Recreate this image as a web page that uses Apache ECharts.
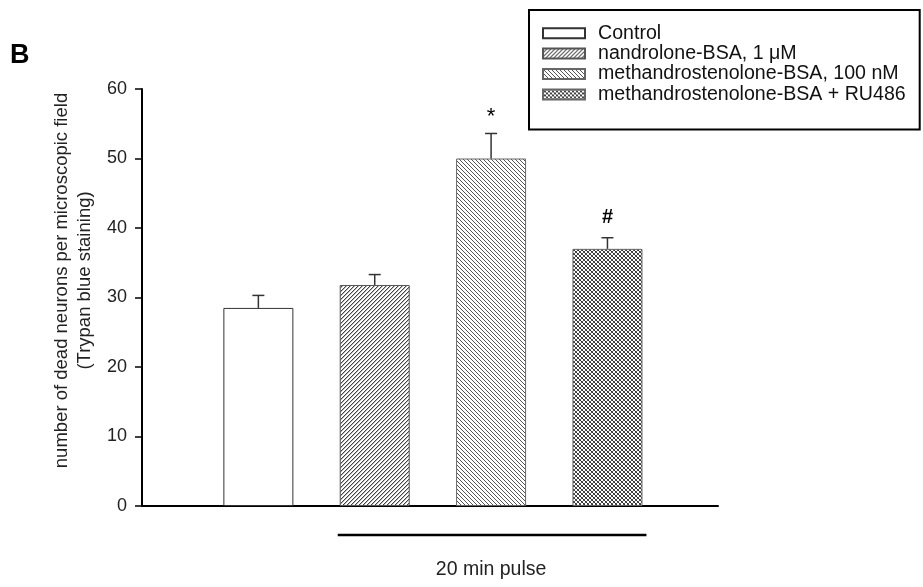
<!DOCTYPE html>
<html>
<head>
<meta charset="utf-8">
<script src="https://cdn.jsdelivr.net/npm/echarts@6/dist/echarts.min.js"></script>
<style>
html,body{margin:0;padding:0;background:#fff;}
#chart{width:923px;height:587px;}
</style>
</head>
<body>
<div id="chart"></div>
<script>
// ---- data ----
const categories = ['Control', 'nandrolone-BSA, 1 μM', 'methandrostenolone-BSA, 100 nM', 'methandrostenolone-BSA + RU486'];
const positions = [1, 2, 3, 4];
const means = [28.5, 31.8, 50.0, 37.0];
const errors = [1.8, 1.5, 3.6, 1.6];
const marks = ['', '', '*', '#'];
const yTicks = [0, 10, 20, 30, 40, 50, 60];
const pulseLabel = '20 min pulse';
const pulseRange = [2, 4];

// ---- patterns ----
function tile(draw) {
  const c = document.createElement('canvas');
  c.width = 4; c.height = 4;
  const g = c.getContext('2d');
  g.fillStyle = '#fff'; g.fillRect(0, 0, 4, 4);
  draw(g);
  return { image: c, repeat: 'repeat' };
}
const patSlash = tile(g => {
  for (let i = 0; i < 4; i++) {
    g.fillStyle = '#444'; g.fillRect(i, 3 - i, 1, 1);
    g.fillStyle = '#bbb'; g.fillRect(i, (4 - i) % 4, 1, 1);
  }
});
const patBack = tile(g => {
  for (let i = 0; i < 4; i++) {
    g.fillStyle = '#555'; g.fillRect(i, i, 1, 1);
  }
});
const patCross = tile(g => {
  for (let i = 0; i < 4; i++) {
    g.fillStyle = '#333'; g.fillRect(i, i, 1, 1);
    g.fillStyle = '#555'; g.fillRect(i, 3 - i, 1, 1);
  }
});
const fills = ['#ffffff', patSlash, patBack, patCross];
const borders = ['#333', '#555', '#666', '#666'];

const font = 'Liberation Sans, Arial, sans-serif';
const BAR_W = 70;

const barSeries = categories.map((name, i) => ({
  name: name,
  type: 'bar',
  barWidth: BAR_W,
  barGap: '-100%',
  data: [[positions[i], means[i]]],
  itemStyle: { color: fills[i], borderColor: borders[i], borderWidth: 1 },
  emphasis: { disabled: true },
  z: 2
}));

const errData = positions.map((p, i) => [p, means[i], errors[i], i]);

const chart = echarts.init(document.getElementById('chart'), null, { renderer: 'canvas' });
chart.setOption({
  animation: false,
  backgroundColor: '#fff',
  title: {
    text: 'B', left: 10, top: 42, padding: 0,
    textStyle: { fontFamily: font, fontSize: 27, fontWeight: 'bold', color: '#000' }
  },
  legend: {
    data: categories,
    orient: 'vertical',
    left: 529, top: 10,
    padding: [13, 14, 25, 13],
    borderColor: '#000', borderWidth: 2,
    backgroundColor: '#fff',
    icon: 'rect',
    itemWidth: 42, itemHeight: 10, itemGap: 0,
    selectedMode: false,
    textStyle: { fontFamily: font, fontSize: 19.6, color: '#111', lineHeight: 20.4, padding: [0, 0, 0, 8] }
  },
  grid: { left: 142, right: 205, top: 89, bottom: 81, containLabel: false },
  xAxis: {
    type: 'value', min: 0, max: 4.95,
    axisLine: { show: true, onZero: false, lineStyle: { color: '#000', width: 2 } },
    axisTick: { show: false }, axisLabel: { show: false }, splitLine: { show: false }
  },
  yAxis: {
    type: 'value', min: yTicks[0], max: yTicks[yTicks.length - 1], interval: 10,
    name: 'number of dead neurons per microscopic field\n(Trypan blue staining)',
    nameLocation: 'middle', nameGap: 44, nameRotate: 90,
    nameTextStyle: { fontFamily: font, fontSize: 18.5, color: '#222', lineHeight: 23, align: 'center', padding: [0, 0, 0, 34] },
    axisLine: { show: true, lineStyle: { color: '#000', width: 2 } },
    axisTick: { show: true, length: 7, lineStyle: { color: '#000', width: 1.5 } },
    axisLabel: { margin: 15, fontFamily: font, fontSize: 18, color: '#222' },
    splitLine: { show: false }
  },
  series: barSeries.concat([
    {
      type: 'custom',
      name: 'err',
      data: errData,
      z: 5,
      clip: false,
      renderItem: function (params, api) {
        const x = api.value(0), m = api.value(1), e = api.value(2), idx = api.value(3);
        const p0 = api.coord([x, m]);
        const p1 = api.coord([x, m + e]);
        const children = [
          { type: 'line', shape: { x1: p0[0], y1: p0[1], x2: p1[0], y2: p1[1] }, style: { stroke: '#333', lineWidth: 1.5 } },
          { type: 'line', shape: { x1: p1[0] - 6, y1: p1[1], x2: p1[0] + 6, y2: p1[1] }, style: { stroke: '#333', lineWidth: 1.5 } }
        ];
        const mk = marks[idx];
        if (mk) {
          children.push({ type: 'text', style: { text: mk, x: p1[0], y: p1[1] - (mk === '*' ? 17 : 20), align: 'center', verticalAlign: 'middle', font: (mk === '*' ? '22px ' : 'bold 20px ') + font, fill: '#000' } });
        }
        return { type: 'group', children: children };
      }
    },
    {
      type: 'custom',
      name: 'pulse',
      data: [[pulseRange[0], pulseRange[1]]],
      z: 5,
      clip: false,
      renderItem: function (params, api) {
        const a = api.coord([api.value(0), 0]);
        const b = api.coord([api.value(1), 0]);
        const y = a[1] + 29;
        const mid = api.coord([(api.value(0) + api.value(1)) / 2, 0]);
        return {
          type: 'group', children: [
            { type: 'line', shape: { x1: a[0] - BAR_W / 2 - 2, y1: y, x2: b[0] + BAR_W / 2 + 4, y2: y }, style: { stroke: '#000', lineWidth: 2.5 } },
            { type: 'text', style: { text: pulseLabel, x: mid[0], y: a[1] + 64, align: 'center', verticalAlign: 'middle', font: '19.5px ' + font, fill: '#222' } }
          ]
        };
      }
    }
  ])
});
</script>
</body>
</html>
